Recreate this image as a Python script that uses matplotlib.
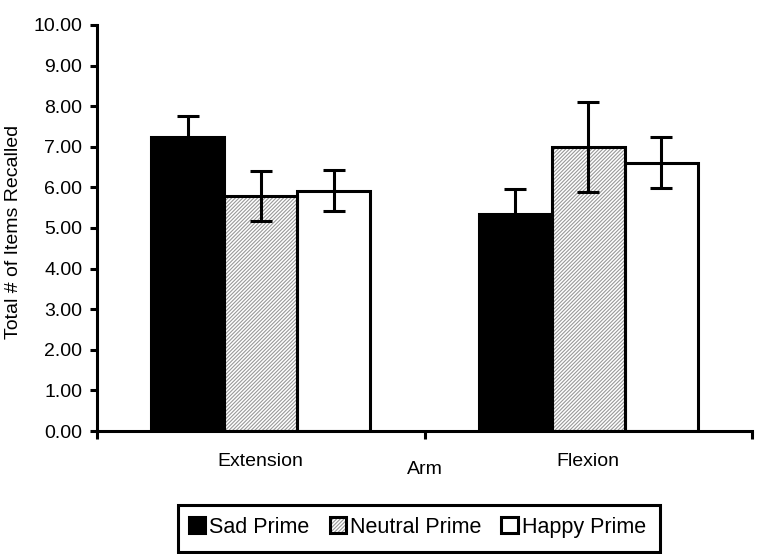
import numpy as np
import matplotlib.pyplot as plt
from matplotlib.patches import Patch, Rectangle
from matplotlib.legend_handler import HandlerTuple

plt.rcParams['font.family'] = ['Liberation Sans', 'DejaVu Sans']
plt.rcParams['hatch.linewidth'] = 0.8

# data
arms = ['Extension', 'Flexion']
primes = ['Sad Prime', 'Neutral Prime', 'Happy Prime']
means = {
    'Sad Prime': [7.24, 5.35],
    'Neutral Prime': [5.79, 6.99],
    'Happy Prime': [5.92, 6.61],
}
errors = {
    'Sad Prime': [0.52, 0.62],
    'Neutral Prime': [0.61, 1.11],
    'Happy Prime': [0.50, 0.63],
}
faces = {'Sad Prime': 'black', 'Neutral Prime': 'white', 'Happy Prime': 'white'}
hatches = {'Sad Prime': None, 'Neutral Prime': '/////////', 'Happy Prime': None}

fig = plt.figure(figsize=(7.71, 5.54), dpi=100)
ax = fig.add_axes([0.1258, 0.222, 0.8496, 0.7329])

x = np.arange(len(arms))
width = 0.223
handles = []
for i, p in enumerate(primes):
    pos = x + (i - 1) * width
    # fill (with hatch drawn in grey) then a black outline on top
    ax.bar(pos, means[p], width, color=faces[p], hatch=hatches[p],
           edgecolor='#999999', linewidth=0, zorder=2)
    ax.bar(pos, means[p], width, color='none', edgecolor='black',
           linewidth=2.2, zorder=3)
    ax.errorbar(pos, means[p], yerr=errors[p], fmt='none', ecolor='black',
                elinewidth=2.2, capsize=8, capthick=2.2, zorder=4)
    h1 = Patch(facecolor=faces[p], hatch=hatches[p], edgecolor='#999999', linewidth=0)
    h2 = Patch(facecolor='none', edgecolor='black', linewidth=2.2)
    handles.append((h1, h2))

ax.set_xlim(-0.5, 1.5)
ax.set_ylim(0, 10)
ax.set_yticks(np.arange(0, 11, 1))
ax.set_yticklabels([f'{v:.2f}' for v in np.arange(0, 11, 1)])
ax.set_xticks(x)
ax.set_xticklabels(arms)
ax.set_xticks([-0.5, 0.5, 1.5], minor=True)
ax.tick_params(axis='x', which='major', length=0, pad=16, labelsize=14)
ax.tick_params(axis='x', which='minor', length=6, width=2.2, direction='out')
ax.tick_params(axis='y', length=5, width=2.2, labelsize=14, pad=5.5)

for s in ['top', 'right']:
    ax.spines[s].set_visible(False)
for s in ['left', 'bottom']:
    ax.spines[s].set_linewidth(2.2)

ax.set_ylabel('Total # of Items Recalled', fontsize=14)
ax.yaxis.set_label_coords(-0.115, 0.49)
ax.set_xlabel('Arm', fontsize=14, labelpad=-7)

# legend box sits low, with the entries in its upper part
fig.patches.append(Rectangle((0.2309, 0.0036), 0.625, 0.0848,
                             transform=fig.transFigure, fill=False,
                             edgecolor='black', linewidth=2.2))
fig.legend(handles, primes, loc='center', bbox_to_anchor=(0.5415, 0.0487),
           ncol=3, frameon=False, fontsize=15.5,
           handler_map={tuple: HandlerTuple()},
           handlelength=0.75, handleheight=0.75, handletextpad=0.19,
           columnspacing=0.93, borderpad=0)

fig.savefig('out.png', dpi=100)
